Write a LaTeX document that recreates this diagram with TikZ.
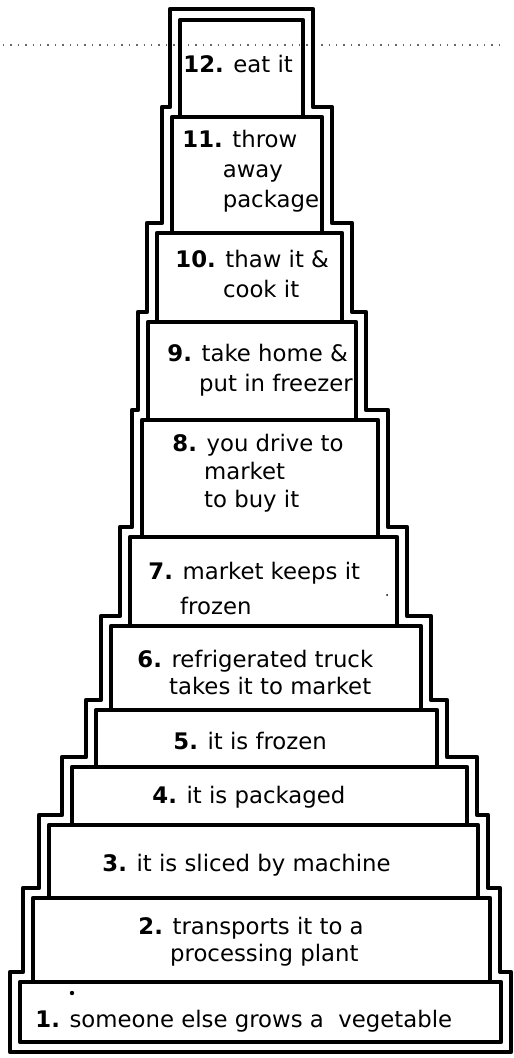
\documentclass[tikz,border=0pt]{standalone}
\usepackage{fontspec}
\setmainfont{DejaVu Sans}
\begin{document}
\begin{tikzpicture}[x=0.5pt,y=-0.5pt,
  inner/.style={draw=black,line width=2.3pt,line join=round},
  outer/.style={draw=black,line width=2.3pt,line join=round},
  lbl/.style={anchor=west,inner sep=0pt,align=left,font=\fontsize{11.4}{15}\selectfont},
  scan/.style={draw=black!60,dash pattern=on 0.7pt off 3pt,line width=0.7pt}]
\useasboundingbox (0,0) rectangle (513,1058);
\fill[white] (0,0) rectangle (513,1058);
% faint dotted line across the top
\draw[scan] (3,45) -- (505,45);
% outer stepped outline
\draw[outer] (170,9) -- (170,107) -- (162,107) -- (162,223) -- (147,223) -- (147,312)
  -- (138,312) -- (138,410) -- (132,410) -- (132,527) -- (120,527) -- (120,616)
  -- (101,616) -- (101,700) -- (86,700) -- (86,757) -- (62,757) -- (62,815)
  -- (39,815) -- (39,888) -- (23,888) -- (23,972) -- (10,972) -- (10,1052)
  -- (511,1052) -- (511,972) -- (500,972) -- (500,888) -- (488,888) -- (488,815)
  -- (477,815) -- (477,757) -- (447,757) -- (447,700) -- (431,700) -- (431,616)
  -- (407,616) -- (407,527) -- (388,527) -- (388,410) -- (366,410) -- (366,312)
  -- (352,312) -- (352,223) -- (332,223) -- (332,107) -- (313,107) -- (313,9) -- cycle;
% inner boxes (12 at top down to 1 at bottom)
\foreach \l/\r/\t/\b in {180/303/20/117, 172/322/117/233, 157/342/233/322,
  148/356/322/420, 142/378/420/537, 130/397/537/626, 111/421/626/710,
  96/437/710/767, 72/467/767/825, 49/478/825/898, 33/490/898/982, 20/501/982/1042}
  \draw[inner] (\l,\t) rectangle (\r,\b);
% scan specks
\fill (72,993) circle (2.2);
\fill (387,595) circle (1);
% labels
\node[lbl] (t12) at (183,64) {\textbf{12.} eat it};
\node[lbl] (t11) at (182,171) {\textbf{11.} throw\\\hphantom{\textbf{11.}}away\\\hphantom{\textbf{11.}}package};
\node[lbl] (t10) at (175,274) {\textbf{10.} thaw it \&\\\hphantom{\textbf{10.}~}cook it};
\node[lbl] (t9) at (167,370) {\textbf{9.} take home \&\\\hphantom{\textbf{9.}~}put in freezer};
\node[lbl,font=\fontsize{11.4}{14}\selectfont] (t8) at (172,473) {\textbf{8.} you drive to\\\hphantom{\textbf{8.}~}market\\\hphantom{\textbf{8.}~}to buy it};
\node[lbl,font=\fontsize{11.4}{17.5}\selectfont] (t7) at (148,588) {\textbf{7.} market keeps it\\\hphantom{\textbf{7.}~}frozen};
\node[lbl,font=\fontsize{11.4}{13.5}\selectfont] (t6) at (137,672) {\textbf{6.} refrigerated truck\\\hphantom{\textbf{6.}~}takes it to market};
\node[lbl] (t5) at (173,741) {\textbf{5.} it is frozen};
\node[lbl] (t4) at (152,797) {\textbf{4.} it is packaged};
\node[lbl] (t3) at (102,865) {\textbf{3.} it is sliced by machine};
\node[lbl,font=\fontsize{11.4}{13.5}\selectfont] (t2) at (138,942) {\textbf{2.} transports it to a\\\hphantom{\textbf{2.}~}processing plant};
\node[lbl] (t1) at (35,1021) {\textbf{1.} someone else grows a\ \ vegetable};
\end{tikzpicture}
\end{document}
